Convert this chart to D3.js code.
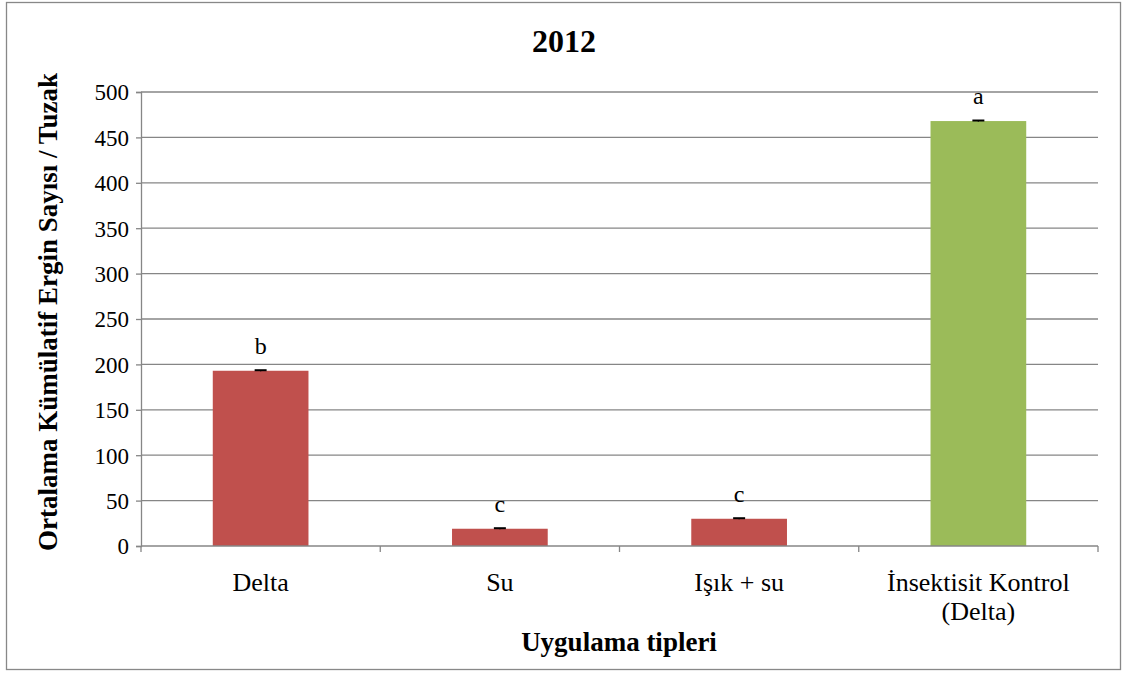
<!DOCTYPE html>
<html><head><meta charset="utf-8">
<script src="https://cdn.jsdelivr.net/npm/d3@7"></script>
<style>body{margin:0;background:#fff}svg{display:block}text{font-family:"Liberation Serif","Times New Roman",serif;fill:#000}</style>
</head><body><svg id="c" width="1123" height="673"></svg>
<script>
const categories = ["Delta", "Su", "Işık + su", "İnsektisit Kontrol\n(Delta)"];
const values = [193, 19, 30, 468];
const errors = [0.6, 0.6, 0.6, 0.6];
const letters = ["b", "c", "c", "a"];
const barColors = ["#C0504D", "#C0504D", "#C0504D", "#9BBB59"];
const yTicks = [0, 50, 100, 150, 200, 250, 300, 350, 400, 450, 500];
const title = "2012";
const yTitle = "Ortalama Kümülatif Ergin Sayısı / Tuzak";
const xTitle = "Uygulama tipleri";

const svg = d3.select("#c");
svg.append("rect").attr("x", 6.5).attr("y", 2.5).attr("width", 1114).attr("height", 667)
  .attr("fill", "#fff").attr("stroke", "#888").attr("stroke-width", 1.3);

const L = 141, R = 1098, T = 92, B = 546;
const x = d3.scaleBand().domain(categories).range([L, R]).paddingInner(0.6).paddingOuter(0.3);
const y = d3.scaleLinear().domain([0, 500]).range([B, T]);

// gridlines
svg.append("g").selectAll("line").data(yTicks.filter(d => d > 0)).join("line")
  .attr("x1", L).attr("x2", R).attr("y1", d => y(d)).attr("y2", d => y(d))
  .attr("stroke", "#868686").attr("stroke-width", 1.3);

// y axis
const ya = svg.append("g").attr("transform", `translate(${L},0)`)
  .call(d3.axisLeft(y).tickValues(yTicks).tickSize(5).tickPadding(7));
ya.select(".domain").attr("stroke", "#868686").attr("stroke-width", 1.3);
ya.selectAll(".tick line").attr("stroke", "#868686").attr("stroke-width", 1.3);
ya.selectAll("text").style("font-family", "Liberation Serif").style("font-size", "23px").attr("fill", "#000").attr("dy", "0.34em");

// bars
svg.append("g").selectAll("rect").data(values).join("rect")
  .attr("x", (d, i) => x(categories[i])).attr("width", x.bandwidth())
  .attr("y", d => y(d)).attr("height", d => B - y(d))
  .attr("fill", (d, i) => barColors[i]);

// error bars
const eb = svg.append("g");
values.forEach((v, i) => {
  const cx = x(categories[i]) + x.bandwidth() / 2;
  eb.append("line").attr("x1", cx).attr("x2", cx).attr("y1", y(v - errors[i])).attr("y2", y(v + errors[i])).attr("stroke", "#000").attr("stroke-width", 1.3);
  eb.append("line").attr("x1", cx - 6).attr("x2", cx + 6).attr("y1", y(v + errors[i])).attr("y2", y(v + errors[i])).attr("stroke", "#000").attr("stroke-width", 2);
});

// letters
svg.append("g").selectAll("text").data(letters).join("text")
  .attr("x", (d, i) => x(categories[i]) + x.bandwidth() / 2)
  .attr("y", (d, i) => y(values[i]) - 17)
  .attr("text-anchor", "middle").style("font-size", "24px").text(d => d);

// x axis
const xa = svg.append("g");
xa.append("line").attr("x1", L).attr("x2", R).attr("y1", B).attr("y2", B).attr("stroke", "#868686").attr("stroke-width", 1.3);
const step = (R - L) / categories.length;
d3.range(categories.length + 1).forEach(i => {
  xa.append("line").attr("x1", L + i * step).attr("x2", L + i * step).attr("y1", B).attr("y2", B + 6).attr("stroke", "#868686").attr("stroke-width", 1.3);
});
categories.forEach((c, i) => {
  const t = xa.append("text").attr("x", x(c) + x.bandwidth() / 2).attr("y", 591)
    .attr("text-anchor", "middle").style("font-size", "26px");
  c.split("\n").forEach((line, j) => {
    t.append("tspan").attr("x", x(c) + x.bandwidth() / 2).attr("dy", j === 0 ? 0 : 29).text(line);
  });
});

// titles
svg.append("text").attr("x", 564).attr("y", 52).attr("text-anchor", "middle")
  .style("font-size", "32px").style("font-weight", "bold").text(title);
svg.append("text").attr("x", 619).attr("y", 651).attr("text-anchor", "middle")
  .style("font-size", "27px").style("font-weight", "bold").text(xTitle);
svg.append("text").attr("transform", "translate(57,312) rotate(-90)").attr("text-anchor", "middle")
  .style("font-size", "27px").style("font-weight", "bold").text(yTitle);
</script></body></html>
